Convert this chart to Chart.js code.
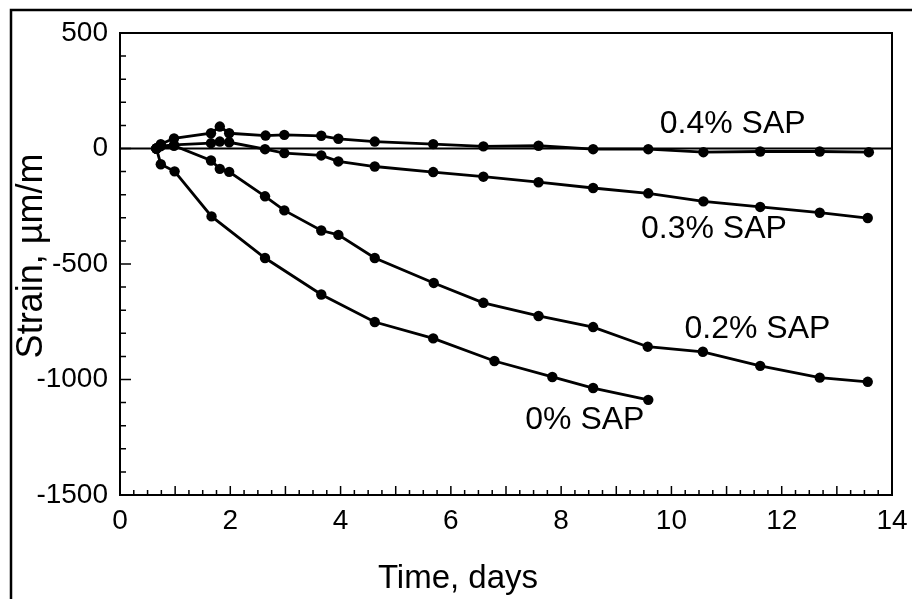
<!DOCTYPE html>
<html>
<head>
<meta charset="utf-8">
<script src="https://cdn.jsdelivr.net/npm/chart.js@4"></script>
<style>
  html, body { margin: 0; padding: 0; background: #fff; }
  #chart { display: block; }
</style>
</head>
<body>
<canvas id="chart" width="912" height="599"></canvas>
<script>
// datos (tiempo en días, deformación en µm/m)
const days0 = [0.66, 0.74, 0.99, 1.66, 2.63, 3.65, 4.62, 5.68, 6.79, 7.84, 8.58, 9.58];
const strain0 = [0, -68, -99, -294, -474, -632, -751, -822, -920, -989, -1037, -1088];

const days02 = [0.66, 0.98, 1.65, 1.81, 1.98, 2.63, 2.98, 3.65, 3.96, 4.62, 5.69, 6.59, 7.59, 8.58, 9.57, 10.57, 11.61, 12.69, 13.56];
const strain02 = [0, 12, -52, -88, -101, -207, -268, -355, -374, -474, -582, -668, -725, -773, -858, -880, -941, -992, -1010];

const days03 = [0.66, 0.74, 0.98, 1.65, 1.81, 1.98, 2.63, 2.98, 3.65, 3.96, 4.62, 5.68, 6.59, 7.59, 8.58, 9.58, 10.58, 11.61, 12.69, 13.56];
const strain03 = [0, 10, 16, 23, 30, 27, -3, -20, -30, -56, -78, -102, -122, -146, -171, -194, -229, -253, -278, -301];

const days04 = [0.66, 0.74, 0.98, 1.65, 1.81, 1.98, 2.64, 2.98, 3.65, 3.96, 4.62, 5.68, 6.59, 7.59, 8.58, 9.58, 10.58, 11.61, 12.69, 13.58];
const strain04 = [0, 19, 44, 66, 95, 66, 56, 59, 55, 42, 30, 19, 9, 12, -3, -3, -16, -13, -13, -16];

// etiquetas de cada curva: texto y posición en unidades de datos
const labelTexts = ['0.4% SAP', '0.3% SAP', '0.2% SAP', '0% SAP'];
const labelDays = [11.11, 10.77, 11.56, 8.43];
const labelStrain = [104, -350, -781, -1174];

const xTitle = 'Time, days';
const yTitle = 'Strain, µm/m';

function toPoints(xs, ys) {
    return xs.map((x, i) => ({ x: x, y: ys[i] }));
}

function serie(label, xs, ys) {
    return {
        label: label,
        data: toPoints(xs, ys),
        showLine: true,
        borderColor: '#000',
        backgroundColor: '#000',
        borderWidth: 2.8,
        pointRadius: 5.2,
        pointBorderWidth: 0,
        tension: 0
    };
}

const FONT = 'Liberation Sans, Arial, sans-serif';

// marco, ticks internos, línea del cero y textos
const decoPlugin = {
    id: 'deco',
    beforeDatasetsDraw(chart) {
        const ctx = chart.ctx;
        const y = chart.scales.y;
        const a = chart.chartArea;
        ctx.save();
        ctx.strokeStyle = '#000';
        // línea del cero
        ctx.lineWidth = 2;
        const y0 = y.getPixelForValue(0);
        ctx.beginPath();
        ctx.moveTo(a.left, y0);
        ctx.lineTo(a.right, y0);
        ctx.stroke();
        ctx.restore();
    },
    afterDraw(chart) {
        const ctx = chart.ctx;
        const x = chart.scales.x, y = chart.scales.y;
        const a = chart.chartArea;
        ctx.save();
        ctx.strokeStyle = '#000';

        // marco exterior (arriba e izquierda)
        ctx.lineWidth = 2.5;
        ctx.beginPath();
        ctx.moveTo(912, 10);
        ctx.lineTo(11, 10);
        ctx.lineTo(11, 599);
        ctx.stroke();

        // caja del gráfico
        ctx.lineWidth = 2;
        ctx.strokeRect(a.left, a.top, a.right - a.left, a.bottom - a.top);

        // ticks del eje x (hacia dentro)
        ctx.lineWidth = 1.5;
        ctx.beginPath();
        for (let i = 0; i <= 56; i++) {
            const v = i * 0.25;
            const px = x.getPixelForValue(v);
            const len = (i % 4 === 0) ? 9 : 5;
            ctx.moveTo(px, a.bottom);
            ctx.lineTo(px, a.bottom - len);
        }
        // ticks del eje y
        for (let v = -1500; v <= 500; v += 100) {
            const py = y.getPixelForValue(v);
            const len = (v % 500 === 0) ? 11 : 6;
            ctx.moveTo(a.left, py);
            ctx.lineTo(a.left + len, py);
        }
        ctx.stroke();

        // etiquetas de las curvas
        ctx.fillStyle = '#000';
        ctx.font = '32px ' + FONT;
        ctx.textAlign = 'center';
        ctx.textBaseline = 'middle';
        labelTexts.forEach((t, i) => {
            ctx.fillText(t, x.getPixelForValue(labelDays[i]), y.getPixelForValue(labelStrain[i]));
        });

        // títulos de los ejes
        ctx.font = '33px ' + FONT;
        ctx.fillText(xTitle, 458, 579);
        ctx.save();
        ctx.translate(32, 256);
        ctx.rotate(-Math.PI / 2);
        ctx.font = '36px ' + FONT;
        ctx.fillText(yTitle, 0, 0);
        ctx.restore();

        ctx.restore();
    }
};

const canvas = document.getElementById('chart');
new Chart(canvas.getContext('2d'), {
    type: 'scatter',
    data: {
        datasets: [
            serie('0% SAP', days0, strain0),
            serie('0.2% SAP', days02, strain02),
            serie('0.3% SAP', days03, strain03),
            serie('0.4% SAP', days04, strain04)
        ]
    },
    options: {
        responsive: false,
        animation: false,
        devicePixelRatio: 1,
        layout: { padding: { top: 33, right: 20, left: 0, bottom: 0 } },
        plugins: {
            legend: { display: false },
            tooltip: { enabled: false }
        },
        scales: {
            x: {
                type: 'linear',
                min: 0,
                max: 14,
                grid: { display: false, drawTicks: false },
                border: { display: false },
                ticks: {
                    stepSize: 2,
                    color: '#000',
                    padding: 9,
                    font: { family: FONT, size: 28 }
                },
                afterFit: s => { s.height = 104; s.paddingRight = 0; s.paddingLeft = 0; }
            },
            y: {
                min: -1500,
                max: 500,
                grid: { display: false, drawTicks: false },
                border: { display: false },
                ticks: {
                    stepSize: 500,
                    color: '#000',
                    padding: 12,
                    font: { family: FONT, size: 28 },
                    callback: v => String(v)
                },
                afterFit: s => { s.width = 120; s.paddingTop = 0; s.paddingBottom = 0; }
            }
        }
    },
    plugins: [decoPlugin]
});
</script>
</body>
</html>
